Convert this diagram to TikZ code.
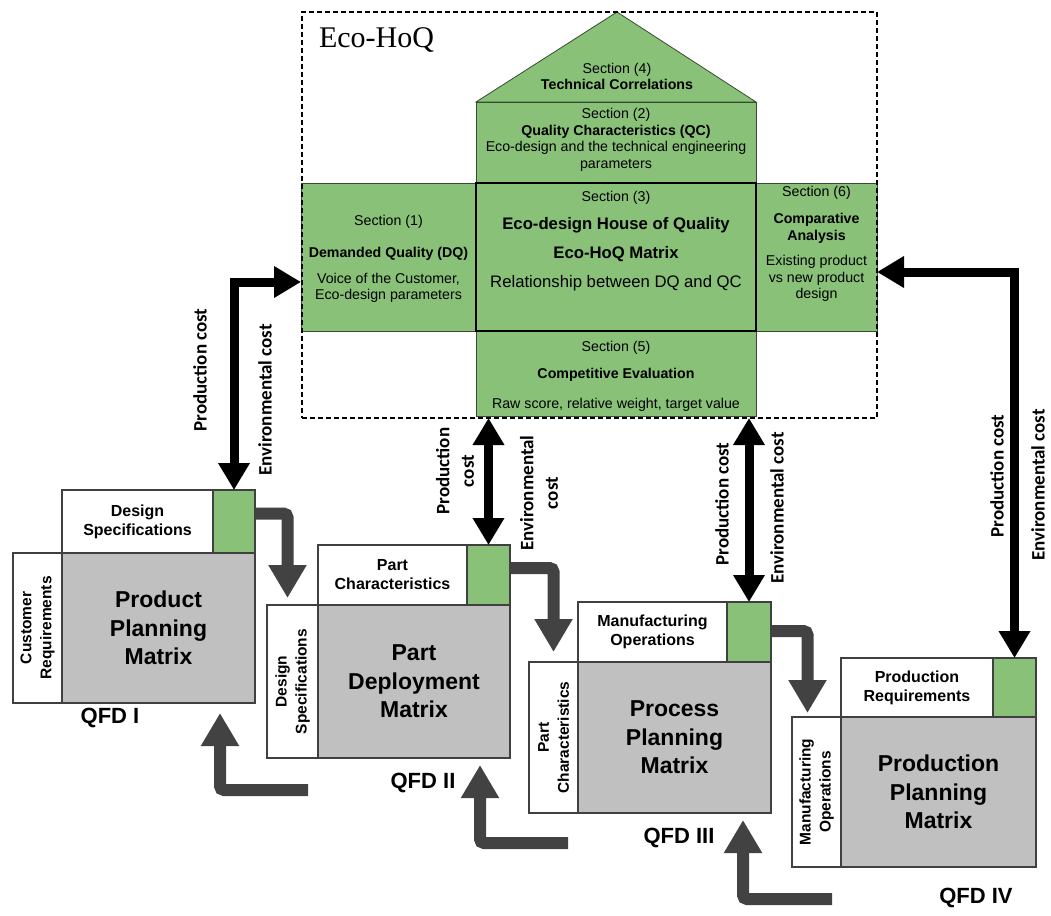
\documentclass[tikz,border=0pt]{standalone}
\usepackage{fontspec}
\setmainfont{Liberation Sans}
\newfontfamily\timesface{Liberation Serif}
\newfontfamily\calface{Carlito}
\usetikzlibrary{arrows.meta,calc}

\definecolor{ecogreen}{RGB}{137,193,121}
\definecolor{secline}{RGB}{55,75,50}
\definecolor{qline}{RGB}{64,64,64}
\definecolor{matgray}{RGB}{192,192,192}
\definecolor{flowgray}{RGB}{66,66,66}

\begin{document}
\begin{tikzpicture}[x=1pt,y=-1pt,
  every node/.style={inner sep=0pt, outer sep=0pt},
  secbox/.style={draw=secline, fill=ecogreen, line width=0.8pt, anchor=north west},
  sectxt/.style={align=center, font=\fontsize{14.2}{16.5}\selectfont},
  hdrbox/.style={draw=qline, fill=white, line width=1.4pt, anchor=north west},
  grnbox/.style={draw=qline, fill=ecogreen, line width=1.4pt, anchor=north west},
  matbox/.style={draw=qline, fill=matgray, line width=1.4pt, anchor=north west},
  hdrtxt/.style={align=center, font=\bfseries\fontsize{16}{19}\selectfont},
  mattxt/.style={align=center, font=\bfseries\fontsize{23}{28.5}\selectfont},
  sidetxt/.style={align=center, rotate=90, font=\bfseries\fontsize{15.5}{20}\selectfont},
  qfdtxt/.style={font=\bfseries\fontsize{22}{26}\selectfont},
  costtxt/.style={align=center, rotate=90, font=\calface\bfseries\fontsize{19}{24.5}\selectfont},
  costarrow/.style={draw=black, line width=9pt,
    {Triangle[width=30pt,length=27pt]}-{Triangle[width=30pt,length=27pt]}},
  flowarrow/.style={draw=flowgray, line width=12pt, rounded corners=4pt,
    -{Triangle[width=36pt,length=33pt]}},
]
\useasboundingbox (0,0) rectangle (1051,915);

% ---------- Eco-HoQ house ----------
\node[secbox, minimum width=280, minimum height=81] (s2) at (476,102) {};
\coordinate (apex) at (617,12);
\draw[draw=secline, fill=ecogreen, line width=0.8pt] (s2.north west) -- (apex) -- (s2.north east) -- cycle;
\node[sectxt] (s4t) at (617,76.5) {Section (4)\\\textbf{Technical Correlations}};
\node[sectxt] (s2t) at ([yshift=2.5pt]s2.center) {Section (2)\\\textbf{Quality Characteristics (QC)}\\Eco-design and the technical engineering\\parameters};

\node[secbox, minimum width=175, minimum height=148] (s1) at (301,183) {};
\node[secbox, minimum width=121, minimum height=148] (s6) at (756,183) {};
\node[secbox, minimum width=280, minimum height=85] (s5) at (476,331) {};
\node[secbox, draw=black, line width=1.3pt, minimum width=280, minimum height=148] (s3) at (476,183) {};

\node[sectxt] (s1t) at ([yshift=-2pt]s1.center) {Section (1)\\[15.5pt]\textbf{Demanded Quality (DQ)}\\[9.5pt]Voice of the Customer,\\Eco-design parameters};
\node[sectxt, anchor=north, font=\fontsize{16.7}{19}\selectfont] (s3t) at ([yshift=-8pt]s3.north)
  {{\fontsize{14.2}{16}\selectfont Section (3)}\\[9pt]
   \textbf{Eco-design House of Quality}\\[10pt]
   \textbf{Eco-HoQ Matrix}\\[10pt]
   Relationship between DQ and QC};
\node[sectxt, anchor=north] (s6t) at ([yshift=-3pt]s6.north) {Section (6)\\[11pt]\textbf{Comparative}\\\textbf{Analysis}\\[9pt]Existing product\\vs new product\\design};
\node[sectxt] (s5t) at ([yshift=-3pt]s5.center) {Section (5)\\[10.5pt]\textbf{Competitive Evaluation}\\[13.5pt]Raw score, relative weight, target value};

% dashed frame around the house
\node[draw=black, line width=1.3pt, dash pattern=on 5pt off 3pt, anchor=north west,
      minimum width=575, minimum height=406] (frame) at (302,12) {};
\node[anchor=west, font=\timesface\fontsize{30}{30}\selectfont] (title) at (319,40) {Eco-HoQ};

% ---------- QFD I ----------
\node[hdrbox, minimum width=151, minimum height=63] (h1) at (62,490) {};
\node[hdrtxt] at (h1.center) {Design\\Specifications};
\node[grnbox, minimum width=42, minimum height=63] (g1) at (213,490) {};
\node[hdrbox, minimum width=49, minimum height=150] (l1) at (13,553) {};
\node[sidetxt] at (l1.center) {Customer\\Requirements};
\node[matbox, minimum width=193, minimum height=150] (m1) at (62,553) {};
\node[mattxt] at (m1.center) {Product\\Planning\\Matrix};
\node[qfdtxt] (q1) at (110,718) {QFD I};

% ---------- QFD II ----------
\node[hdrbox, minimum width=149, minimum height=60] (h2) at (318,545) {};
\node[hdrtxt] at (h2.center) {Part\\Characteristics};
\node[grnbox, minimum width=43, minimum height=60] (g2) at (467,545) {};
\node[hdrbox, minimum width=51, minimum height=153] (l2) at (267,605) {};
\node[sidetxt] at (l2.center) {Design\\Specifications};
\node[matbox, minimum width=192, minimum height=153] (m2) at (318,605) {};
\node[mattxt] at (m2.center) {Part\\Deployment\\Matrix};
\node[qfdtxt] (q2) at (423,783) {QFD II};

% ---------- QFD III ----------
\node[hdrbox, minimum width=149, minimum height=60] (h3) at (578,602) {};
\node[hdrtxt] at (h3.center) {Manufacturing\\Operations};
\node[grnbox, minimum width=44, minimum height=60] (g3) at (727,602) {};
\node[hdrbox, minimum width=49, minimum height=151] (l3) at (529,662) {};
\node[sidetxt] at (l3.center) {Part\\Characteristics};
\node[matbox, minimum width=193, minimum height=151] (m3) at (578,662) {};
\node[mattxt] at (m3.center) {Process\\Planning\\Matrix};
\node[qfdtxt] (q3) at (679,838) {QFD III};

% ---------- QFD IV ----------
\node[hdrbox, minimum width=152, minimum height=59] (h4) at (841,658) {};
\node[hdrtxt] at (h4.center) {Production\\Requirements};
\node[grnbox, minimum width=43, minimum height=59] (g4) at (993,658) {};
\node[hdrbox, minimum width=49, minimum height=150] (l4) at (792,717) {};
\node[sidetxt] at (l4.center) {Manufacturing\\Operations};
\node[matbox, minimum width=195, minimum height=150] (m4) at (841,717) {};
\node[mattxt] at (m4.center) {Production\\Planning\\Matrix};
\node[qfdtxt] (q4) at (976,898) {QFD IV};

% ---------- cost links to the Eco-HoQ ----------
\draw[costarrow] (g1.north) |- ([yshift=-25pt]s1.west);
\draw[costarrow] (g2.north) -- (g2.north |- frame.south);
\draw[costarrow] (g3.north) -- (g3.north |- frame.south);
\draw[costarrow] (g4.north) |- ([yshift=-15pt]s6.east);

\node[costtxt] at (200,370) {Production cost};
\node[costtxt] at (265,400) {Environmental cost};
\node[costtxt] at (455,471) {Production\\cost};
\node[costtxt] at (539,493) {Environmental\\cost};
\node[costtxt] at (722,504) {Production cost};
\node[costtxt] at (777,508) {Environmental cost};
\node[costtxt] at (997,476) {Production cost};
\node[costtxt] at (1038,485) {Environmental cost};

% ---------- flow between the QFD matrices ----------
\draw[flowarrow] ([yshift=8pt]g1.east) -| ([xshift=-5pt,yshift=7pt]l2.north);
\draw[flowarrow] ([yshift=7pt]g2.east) -| ([yshift=10pt]l3.north);
\draw[flowarrow] ([yshift=1pt]g3.east) -| ([xshift=-9pt,yshift=4pt]l4.north);

\coordinate (r1) at (308,790);
\coordinate (r2) at (568,843);
\coordinate (r3) at (832,899);
\draw[flowarrow] (r1) -| ([xshift=-35pt,yshift=-10pt]m1.south east);
\draw[flowarrow] (r2) -| ([xshift=-30pt,yshift=-7pt]m2.south east);
\draw[flowarrow] (r3) -| ([xshift=-28pt,yshift=-7pt]m3.south east);
\end{tikzpicture}
\end{document}
